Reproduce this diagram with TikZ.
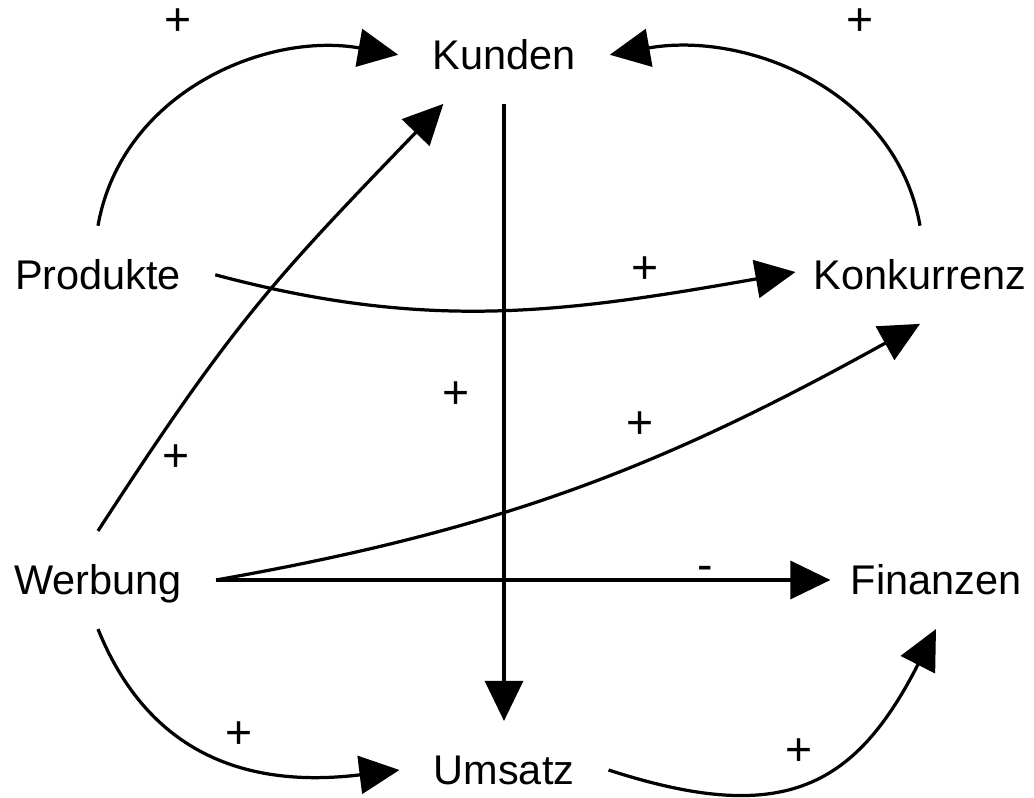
\documentclass[tikz,border=0pt]{standalone}
\usepackage{fontspec}
\setmainfont{Liberation Sans}
\usetikzlibrary{arrows.meta}

\begin{document}
\begin{tikzpicture}[x=1cm,y=1cm]
\tikzset{
  varnode/.style={inner xsep=0.85cm,inner ysep=0.85cm,text height=0.74cm,text depth=0pt,font=\fontsize{29.5}{35}\selectfont},
  signlabel/.style={inner sep=0pt,font=\fontsize{33}{38}\selectfont},
  directed/.style={-{Triangle[length=1.0cm,width=0.95cm]},line width=2.3pt}
}
\useasboundingbox (0,0) rectangle (25.85,19.95);
\node[varnode] (n_kunden) at (12.6,18.58) {Kunden};
\node[varnode] (n_produkte) at (2.45,13.08) {Produkte};
\node[varnode] (n_konkurrenz) at (23.0,13.08) {Konkurrenz};
\node[varnode] (n_werbung) at (2.45,5.45) {Werbung};
\node[varnode] (n_finanzen) at (23.4,5.45) {Finanzen};
\node[varnode] (n_umsatz) at (12.6,0.70) {Umsatz};
\node[signlabel] (l_pk) at (4.45,19.4) {+};
\node[signlabel] (l_kk) at (21.5,19.4) {+};
\node[signlabel] (l_pn) at (16.13,13.2) {+};
\node[signlabel] (l_ku) at (11.4,10.08) {+};
\node[signlabel] (l_wk) at (4.4,8.5) {+};
\node[signlabel] (l_wn) at (16.0,9.33) {+};
\node[signlabel] (l_wf) at (17.63,5.62) {-};
\node[signlabel] (l_wu) at (5.97,1.58) {+};
\node[signlabel] (l_uf) at (19.98,1.15) {+};
\draw[directed] (n_produkte.north) to[out=80,in=170] (n_kunden.west);
\draw[directed] (n_konkurrenz.north) to[out=100,in=10] (n_kunden.east);
\draw[directed] (n_werbung.north) to[out=57,in=226,looseness=1.15] (n_kunden.219);
\draw[directed] (n_kunden) -- (n_umsatz);
\draw[directed,shorten >=-0.4cm] (n_produkte.east) to[out=-15,in=190] (n_konkurrenz.west);
\draw[directed] (n_werbung.east) to[out=10,in=209] (n_konkurrenz.south);
\draw[directed,shorten >=-0.35cm] (n_werbung) -- (n_finanzen);
\draw[directed] (n_werbung.south) to[out=-68,in=187,looseness=1.1] (n_umsatz.west);
\draw[directed] (n_umsatz.east) to[out=-18,in=243,looseness=1.3] (n_finanzen.south);
\end{tikzpicture}
\end{document}
